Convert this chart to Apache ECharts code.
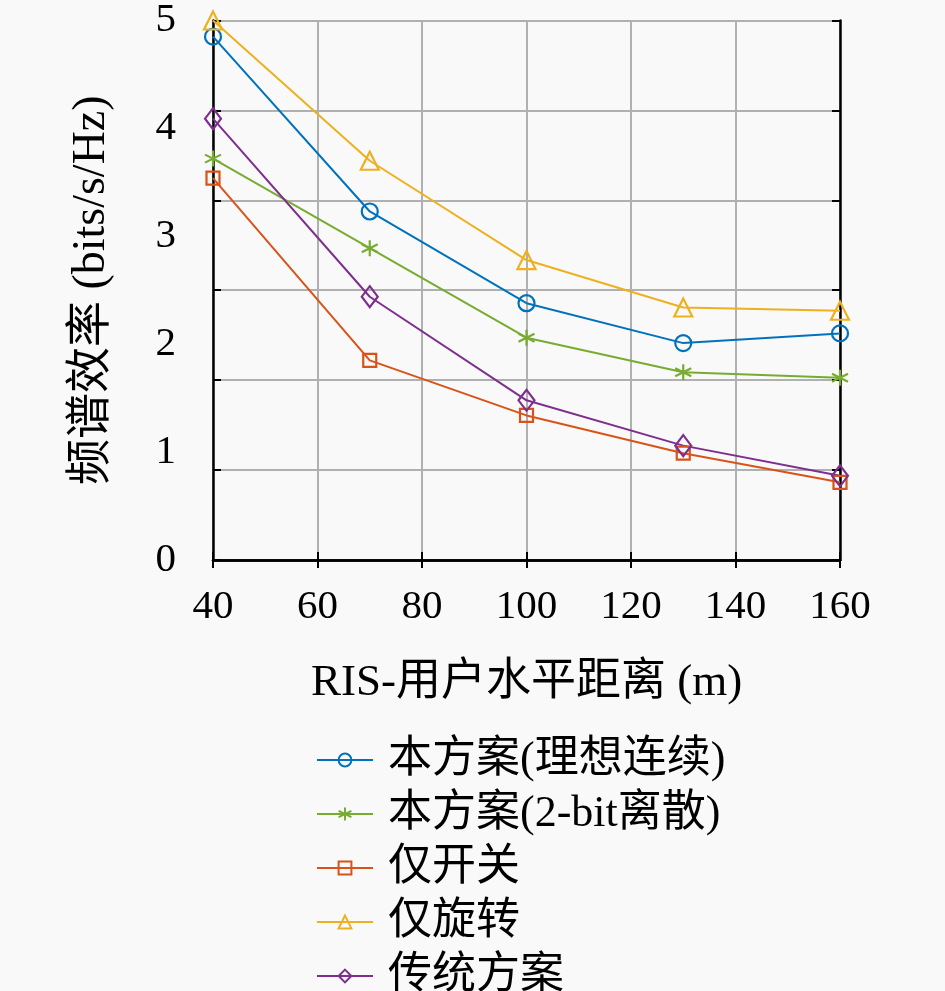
<!DOCTYPE html>
<html>
<head>
  <meta charset="UTF-8">
  <title>频谱效率</title>
  <script src="https://cdn.jsdelivr.net/npm/echarts@6/dist/echarts.min.js"></script>
  <style>
    html, body { margin: 0; padding: 0; background: #f9f9f9; }
  </style>
</head>
<body>
  <div id="main" style="width: 945px; height: 991px;"></div>
  <script>
    // 横轴: RIS-用户水平距离 (m)
    var distances = [40, 70, 100, 130, 160];
    var xTicks = [40, 60, 80, 100, 120, 140, 160];
    var yTicks = [0, 1, 2, 3, 4, 5];

    // 各方案的频谱效率 (bits/s/Hz)
    var idealCont = [4.85, 3.23, 2.38, 2.01, 2.10];
    var twoBit = [3.72, 2.89, 2.06, 1.74, 1.69];
    var onOffOnly = [3.54, 1.85, 1.34, 0.99, 0.72];
    var rotateOnly = [5.00, 3.70, 2.78, 2.34, 2.31];
    var traditional = [4.09, 2.44, 1.48, 1.06, 0.78];

    var seriesNames = ['本方案(理想连续)', '本方案(2-bit离散)', '仅开关', '仅旋转', '传统方案'];

    var font = "'Liberation Serif', 'Noto Sans CJK SC', serif";
    var asterisk = 'path://M0,-10L0,10M-8.66,-5L8.66,5M-8.66,5L8.66,-5';

    function pairs(vals) {
      return vals.map(function (v, i) { return [distances[i], v]; });
    }

    function makeSeries(name, vals, color, symbol, size) {
      return {
        name: name,
        type: 'line',
        xAxisIndex: 0,
        yAxisIndex: 0,
        data: pairs(vals),
        symbol: symbol,
        symbolSize: size,
        clip: false,
        lineStyle: { color: color, width: 2 },
        itemStyle: { color: 'rgba(0,0,0,0)', borderColor: color, borderWidth: 2.2 },
        emphasis: { disabled: true }
      };
    }

    var myChart = echarts.init(document.getElementById('main'));

    var option = {
      backgroundColor: '#f9f9f9',
      animation: false,
      textStyle: { fontFamily: font },
      grid: { left: 213, right: 105, top: 20, bottom: 431, containLabel: false },
      legend: {
        orient: 'vertical',
        left: 316,
        top: 738,
        height: 400,
        padding: 0,
        itemWidth: 56,
        itemHeight: 16,
        itemGap: 10,
        data: seriesNames,
        textStyle: {
          fontFamily: font,
          fontSize: 44,
          lineHeight: 42,
          color: '#000',
          padding: [0, 0, 0, 10]
        }
      },
      xAxis: [
        {
          type: 'value',
          position: 'bottom',
          min: xTicks[0],
          max: xTicks[xTicks.length - 1],
          interval: 20,
          name: 'RIS-用户水平距离 (m)',
          nameLocation: 'middle',
          nameGap: 101,
          nameTextStyle: { fontFamily: font, fontSize: 45, color: '#000' },
          axisLine: { show: true, lineStyle: { color: '#000', width: 2.5 } },
          axisTick: { show: true, inside: true, length: 8, lineStyle: { color: '#000', width: 2 } },
          axisLabel: { fontFamily: font, fontSize: 41, color: '#000', margin: 27 },
          splitLine: { show: true, lineStyle: { color: '#b0b0b0', width: 2 } }
        },
        {
          type: 'value',
          position: 'top',
          min: xTicks[0],
          max: xTicks[xTicks.length - 1],
          interval: 20,
          axisLine: { show: true, lineStyle: { color: '#000', width: 2.5 } },
          axisTick: { show: true, inside: true, length: 8, lineStyle: { color: '#000', width: 2 } },
          axisLabel: { show: false },
          splitLine: { show: false }
        }
      ],
      yAxis: [
        {
          // 刻度标签 0~5
          type: 'value',
          position: 'left',
          min: yTicks[0],
          max: yTicks[yTicks.length - 1],
          interval: 1,
          name: '频谱效率 (bits/s/Hz)',
          nameLocation: 'middle',
          nameGap: 98,
          nameTextStyle: { fontFamily: font, fontSize: 46, color: '#000' },
          axisLine: { show: true, lineStyle: { color: '#000', width: 2.5 } },
          axisTick: { show: false },
          axisLabel: { fontFamily: font, fontSize: 41, color: '#000', margin: 37 },
          splitLine: { show: false }
        },
        {
          // 网格线 (6 等分)
          type: 'value',
          position: 'left',
          min: 0,
          max: 6,
          interval: 1,
          axisLine: { show: false },
          axisTick: { show: true, inside: true, length: 8, lineStyle: { color: '#000', width: 2 } },
          axisLabel: { show: false },
          splitLine: { show: true, lineStyle: { color: '#b0b0b0', width: 2 } }
        },
        {
          type: 'value',
          position: 'right',
          min: 0,
          max: 6,
          interval: 1,
          axisLine: { show: true, lineStyle: { color: '#000', width: 2.5 } },
          axisTick: { show: true, inside: true, length: 8, lineStyle: { color: '#000', width: 2 } },
          axisLabel: { show: false },
          splitLine: { show: false }
        }
      ],
      series: [
        makeSeries(seriesNames[0], idealCont, '#0072BD', 'circle', 16),
        makeSeries(seriesNames[1], twoBit, '#77AC30', asterisk, 16),
        makeSeries(seriesNames[2], onOffOnly, '#D95319', 'rect', 13),
        makeSeries(seriesNames[3], rotateOnly, '#EDB120', 'triangle', 18),
        makeSeries(seriesNames[4], traditional, '#7E2F8E', 'diamond', [16, 21])
      ]
    };

    myChart.setOption(option);
  </script>
</body>
</html>
